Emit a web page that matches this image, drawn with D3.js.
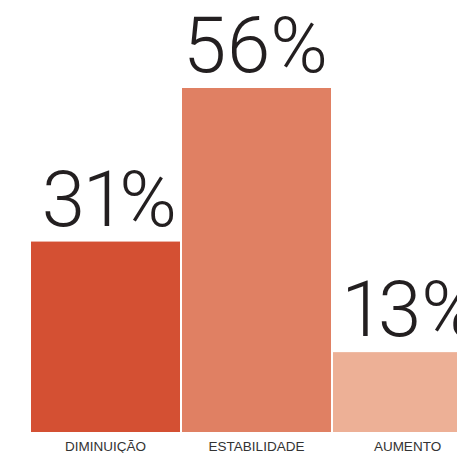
<!DOCTYPE html>
<html>
<head>
<meta charset="utf-8">
<script src="https://cdn.jsdelivr.net/npm/d3@7"></script>
<style>
  html, body { margin: 0; padding: 0; background: #ffffff; overflow: hidden; }
  svg { display: block; }
  .value { font-variant-numeric: proportional-nums; font-feature-settings: "pnum" 1; }
</style>
</head>
<body>
<svg id="chart" width="457" height="453"></svg>
<script>
// Share of responses per trend category
const categories = ["DIMINUIÇÃO", "ESTABILIDADE", "AUMENTO"];
const values = [31, 56, 13];
const colors = ["#d45033", "#e08063", "#edb096"];

const svg = d3.select("#chart");

const x = d3.scaleBand()
  .domain(categories)
  .range([31, 482])
  .paddingInner(2 / 151)
  .paddingOuter(0);

const y = d3.scaleLinear()
  .domain([0, 56])
  .range([432, 88]);

// Bars
svg.append("g")
  .selectAll("rect")
  .data(categories)
  .join("rect")
  .attr("x", d => x(d))
  .attr("y", (d, i) => y(values[i]))
  .attr("width", x.bandwidth())
  .attr("height", (d, i) => y(0) - y(values[i]))
  .attr("fill", (d, i) => colors[i]);

// Value labels above each bar
svg.append("g")
  .selectAll("text")
  .data(categories)
  .join("text")
  .attr("class", "value")
  .attr("x", d => x(d) + x.bandwidth() - 3)
  .attr("y", (d, i) => y(values[i]) - 16)
  .attr("text-anchor", "end")
  .attr("font-family", "Roboto, 'Liberation Sans', sans-serif")
  .attr("font-weight", 300)
  .attr("font-size", 78)
  .attr("fill", "#231f20")
  .text((d, i) => values[i] + "%");

// Category axis along the bottom
const axis = d3.axisBottom(x).tickSize(0).tickPadding(9.4);
const gx = svg.append("g")
  .attr("transform", `translate(0,${y(0)})`)
  .call(axis);
gx.select(".domain").remove();
gx.selectAll("text")
  .attr("font-family", "'Liberation Sans', Arial, sans-serif")
  .attr("font-size", 13.5)
  .attr("fill", "#333333");
</script>
</body>
</html>
